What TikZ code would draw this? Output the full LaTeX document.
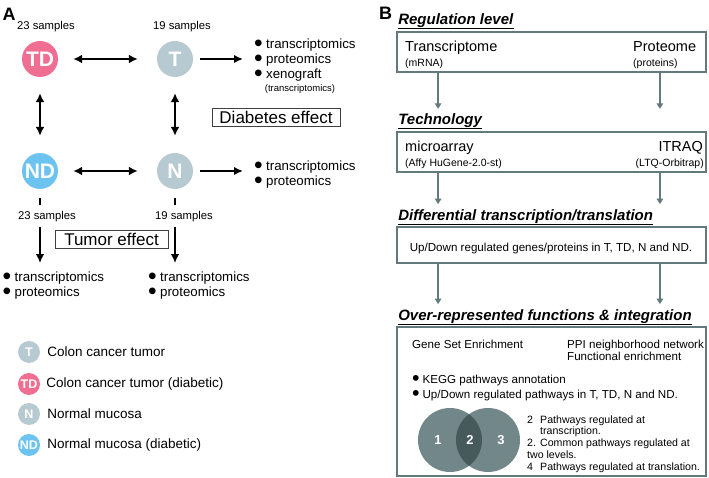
\documentclass[tikz,border=0pt]{standalone}
\usepackage{fontspec}
\setmainfont{Liberation Sans}
\usepackage{graphicx}
\usepackage{xcolor}
\usetikzlibrary{positioning}
\usetikzlibrary{arrows.meta}
\usetikzlibrary{calc}

\definecolor{tdpink}{RGB}{240,110,146}
\definecolor{tgrey}{RGB}{183,202,210}
\definecolor{ndblue}{RGB}{109,195,239}
\definecolor{flowline}{RGB}{98,122,126}
\definecolor{venngrey}{RGB}{113,135,137}
\definecolor{venndark}{RGB}{70,89,91}

\newcommand{\fsz}[2]{\fontsize{#1}{#2}\selectfont}
\newcommand{\blt}{\raisebox{-0.2em}{\scalebox{1.85}{\textbullet}}\hspace{0.25em}}

\begin{document}
\begin{tikzpicture}[
  x=1pt, y=-1pt,
  smp/.style={font=\fsz{11.3}{13}, inner sep=0},
  grp/.style={circle, minimum size=36pt, inner sep=0, text=white, font=\bfseries\fsz{21}{21}},
  lgd/.style={circle, minimum size=22pt, inner sep=0, text=white, font=\bfseries\fsz{12.5}{12.5}},
  legtxt/.style={font=\fsz{13.5}{15}, inner sep=0, anchor=west},
  omics/.style={font=\fsz{13.3}{15}, align=left, inner sep=0, anchor=west},
  effect/.style={draw=black!75, line width=0.7pt, font=\fsz{17}{17}, text height=14pt, text depth=0pt, inner xsep=0pt, inner ysep=2pt, minimum height=18pt},
  dbl/.style={{Latex[length=9pt,width=9pt]}-{Latex[length=9pt,width=9pt]}, line width=2pt},
  one/.style={-{Latex[length=9pt,width=8.5pt]}, line width=2pt},
  flow/.style={draw=flowline, line width=1.8pt, minimum width=309pt, inner sep=0},
  head/.style={font=\bfseries\itshape\fsz{15}{15}, inner sep=0, anchor=south west},
  down/.style={-{Triangle[length=5.5pt,width=6.5pt]}, draw=flowline, line width=1.6pt},
  big/.style={font=\fsz{14.5}{16}, inner sep=0},
  small/.style={font=\fsz{10.5}{12}, inner sep=0},
  body/.style={font=\fsz{11.6}{13}, inner sep=0},
  vnum/.style={text=white, font=\bfseries\fsz{13}{13}, inner sep=0},
  panel/.style={font=\bfseries\fsz{18}{18}, inner sep=0}
]
\useasboundingbox (0,0) rectangle (709,478);

% panel A: sample groups
\node[panel] (labA) at (9,14) {A};
\node[grp, fill=tdpink] (TD) at (40,59) {TD};
\node[grp, fill=tgrey] (T) at (175,59) {T};
\node[grp, fill=ndblue] (ND) at (40,171) {ND};
\node[grp, fill=tgrey] (N) at (175,171) {N};

\node[smp] (sTD) at (46,27) {23 samples};
\node[smp] (sT) at (182,27) {19 samples};
\node[smp] (sND) at (47,217) {23 samples};
\node[smp] (sN) at (184,217) {19 samples};

\node[omics] (Tlist) at (254,60.5) {\blt transcriptomics\\\blt proteomics\\\blt xenograft};
\node[font=\fsz{9.5}{10}, inner sep=0] (xeno) at (300,89) {(transcriptomics)};
\node[omics] (Nlist) at (254,174.5) {\blt transcriptomics\\\blt proteomics};
\node[omics] (NDlist) at (2.5,286) {\blt transcriptomics\\\blt proteomics};
\node[omics] (Nlow) at (148,286) {\blt transcriptomics\\\blt proteomics};

\node[effect, minimum width=128pt] (diab) at (276,117) {Diabetes effect};
\node[effect, minimum width=113pt] (tum) at (111.5,239) {Tumor effect};

\draw[dbl, shorten <=15pt, shorten >=19pt] (TD) -- (T);
\draw[dbl, shorten <=15pt, shorten >=19pt] (ND) -- (N);
\draw[dbl, shorten <=16pt, shorten >=17pt] (TD) -- (ND);
\draw[dbl, shorten <=16pt, shorten >=17pt] (T) -- (N);
\draw[one, shorten <=7pt, shorten >=11pt] (T.east) -- (T.east -| Tlist.west);
\draw[one, shorten <=7pt, shorten >=11pt] (N.east) -- (N.east -| Nlist.west);

% tumor effect branches
\draw[line width=2pt, shorten <=9pt, shorten >=6.5pt] (ND.south) -- (ND.south |- sND.north);
\draw[line width=2pt, shorten <=9pt, shorten >=6.5pt] (N.south) -- (N.south |- sN.north);
\draw[one, shorten <=4.5pt, shorten >=9pt] (ND.south |- sND.south) -- (ND.south |- NDlist.north);
\draw[one, shorten <=4.5pt, shorten >=9pt] (N.south |- sN.south) -- (N.south |- Nlow.north);

% legend
\node[lgd, fill=tgrey] (lgT) at (29,352) {T};
\node[lgd, fill=tdpink] (lgTD) at (29,384) {TD};
\node[lgd, fill=tgrey] (lgN) at (29,414) {N};
\node[lgd, fill=ndblue] (lgND) at (29,445) {ND};
\node[legtxt, right=7pt of lgT] (txT) {Colon cancer tumor};
\node[legtxt, right=6pt of lgTD] (txTD) {Colon cancer tumor (diabetic)};
\node[legtxt, right=7pt of lgN] (txN) {Normal mucosa};
\node[legtxt, right=7pt of lgND] (txND) {Normal mucosa (diabetic)};

% panel B: workflow
\node[panel] (labB) at (385.5,13) {B};
\node[flow, minimum height=40pt] (reg) at (551.5,51.7) {};
\node[flow, minimum height=40pt] (tech) at (551.5,151.7) {};
\node[flow, minimum height=36pt] (diff) at (551.5,245) {};
\node[flow, minimum height=149pt] (func) at (551.5,401.5) {};

\node[head] (hreg) at ([xshift=2pt, yshift=2.5pt]reg.north west) {Regulation level};
\node[head] (htech) at ([xshift=2pt, yshift=2.5pt]tech.north west) {Technology};
\node[head] (hdiff) at ([xshift=2pt, yshift=2.5pt]diff.north west) {Differential transcription/translation};
\node[head] (hfunc) at ([xshift=2pt, yshift=2.5pt]func.north west) {Over-represented functions \& integration};
\foreach \h in {hreg,htech,hdiff,hfunc}
  \draw[line width=1.1pt] ([yshift=-0.5pt]\h.south west) -- ([yshift=-0.5pt]\h.south east);

\node[big, anchor=base west] (trn) at (405,52) {Transcriptome};
\node[small, anchor=base west] (mrna) at (405,66.5) {(mRNA)};
\node[big, anchor=base west] (prt) at (633,52) {Proteome};
\node[small, anchor=base west] (prot) at (633,66.5) {(proteins)};

\node[big, anchor=base west] (micro) at (405,152) {microarray};
\node[small, anchor=base west] (affy) at (405,166.5) {(Affy HuGene-2.0-st)};
\node[big, anchor=base east] (itraq) at (703,152) {ITRAQ};
\node[small, anchor=base east] (ltq) at (704,166.5) {(LTQ-Orbitrap)};

\node[body, anchor=base] (updown) at (551,251.5) {Up/Down regulated genes/proteins in T, TD, N and ND.};

\foreach \src/\dst in {reg/tech, tech/diff, diff/func} {
  \draw[down] ([xshift=42pt]\src.south west) -- ([xshift=42pt, yshift=22pt]\dst.north west);
  \draw[down] ([xshift=-47pt]\src.south east) -- ([xshift=-47pt, yshift=22pt]\dst.north east);
}

\node[body, anchor=base west] (gse) at (412,348) {Gene Set Enrichment};
\node[body, anchor=base west] (ppi) at (567,348) {PPI neighborhood network};
\node[body, anchor=base west] (fenr) at (567,360.5) {Functional enrichment};
\node[body, anchor=base west] (kegg) at (412,383.5) {\blt KEGG pathways annotation};
\node[body, anchor=base west] (updp) at (412,398) {\blt Up/Down regulated pathways in T, TD, N and ND.};

% venn
\coordinate (vl) at (450,440);
\coordinate (vr) at (488,440);
\fill[venngrey] (vl) circle[radius=32] (vr) circle[radius=32];
\begin{scope}
  \clip (vl) circle[radius=32];
  \fill[venndark] (vr) circle[radius=32];
\end{scope}
\node[vnum] (v1) at (438,440) {1};
\node[vnum] (v2) at (470,440) {2};
\node[vnum] (v3) at (501,440) {3};

\node[font=\fsz{10.6}{11.8}, align=left, inner sep=0, anchor=west] (vkey) at (527,444)
  {\makebox[13pt][l]{2}Pathways regulated at\\\hspace*{13pt}transcription.\\\makebox[13pt][l]{2.}Common pathways regulated at\\two levels.\\\makebox[13pt][l]{4}Pathways regulated at translation.};
\end{tikzpicture}
\end{document}
